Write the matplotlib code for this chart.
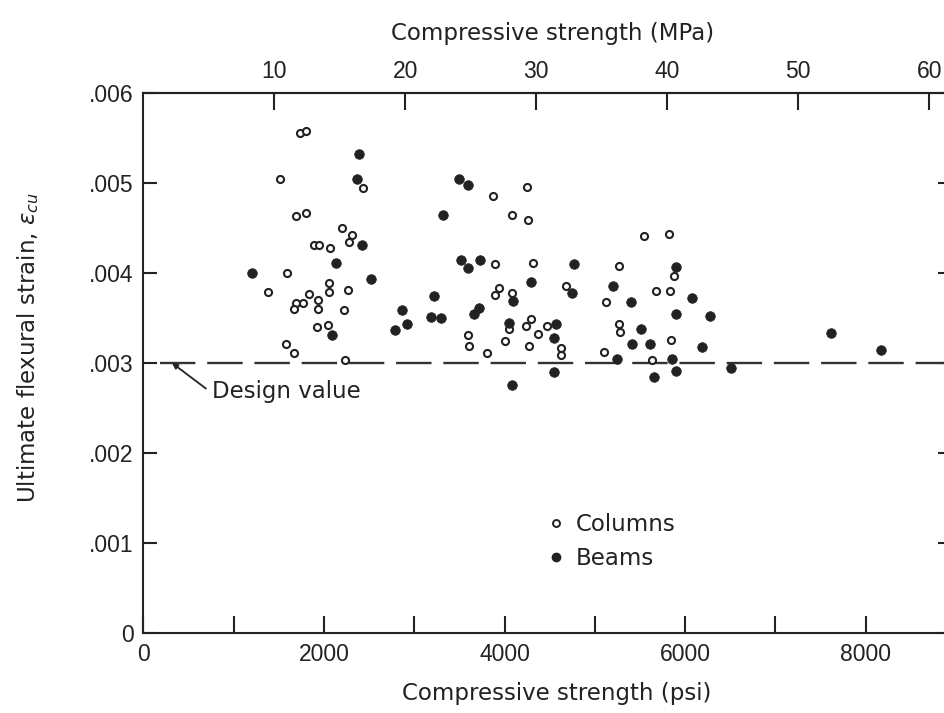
import matplotlib
matplotlib.use("Agg")
import matplotlib.pyplot as plt
from matplotlib.lines import Line2D
import numpy as np

# ---------------- data ----------------
columns_psi = [1730, 1800, 1510, 2436, 1694, 1798, 2197, 2314, 2281, 1890,
               1949, 2071, 1591, 1381, 1838, 2060, 2060, 2270, 1688, 1765,
               1669, 1938, 1938, 2226, 1924, 2045, 1577, 1672, 2237,
               3876, 4252, 4080, 4263, 3891, 4316, 3942, 3895, 4083, 4046,
               3599, 3607, 3806, 4009, 4238, 4293, 4368, 4467, 4268, 4681,
               4622, 4622, 5265, 5121, 5265, 5279, 5098, 5545, 5825, 5877,
               5674, 5833, 5840, 5637]
columns_strain = [.00556, .00558, .00504, .00495, .00463, .00467, .00450, .00442, .00435, .00431,
                  .00431, .00428, .00400, .00379, .00377, .00389, .00379, .00381, .00367, .00367,
                  .00360, .00370, .00360, .00359, .00340, .00342, .00321, .00311, .00303,
                  .00486, .00496, .00465, .00459, .00410, .00411, .00383, .00376, .00378, .00338,
                  .00331, .00319, .00311, .00325, .00341, .00349, .00332, .00341, .00319, .00386,
                  .00317, .00309, .00408, .00368, .00343, .00335, .00312, .00441, .00443, .00397,
                  .00380, .00380, .00326, .00303]

beams_psi = [2389, 2363, 2422, 2134, 1200, 2525, 2086, 2862, 2791, 2924,
             3499, 3592, 3316, 3522, 3592, 3729, 3219, 3186, 3297, 3662,
             3714, 4297, 4097, 4053, 4570, 4545, 4744, 4770, 4551, 4083,
             5198, 5404, 5512, 5415, 5608, 5242, 5855, 5655, 5896, 5899,
             5899, 6076, 6279, 6187, 6505, 7619, 8173]
beams_strain = [.00532, .00504, .00431, .00411, .00400, .00393, .00331, .00359, .00337, .00343,
                .00505, .00498, .00465, .00414, .00406, .00415, .00374, .00351, .00350, .00355,
                .00361, .00390, .00369, .00344, .00343, .00328, .00378, .00410, .00290, .00276,
                .00386, .00368, .00338, .00321, .00321, .00304, .00305, .00285, .00291, .00354,
                .00407, .00372, .00352, .00318, .00295, .00333, .00314]

design_strain = 0.003

psi_ticks = [0, 1000, 2000, 3000, 4000, 5000, 6000, 7000, 8000]
psi_labels = ["0", "", "2000", "", "4000", "", "6000", "", "8000"]
strain_ticks = [0, 0.001, 0.002, 0.003, 0.004, 0.005, 0.006]
strain_labels = ["0", ".001", ".002", ".003", ".004", ".005", ".006"]
mpa_ticks = [10, 20, 30, 40, 50, 60]
PSI_PER_MPA = 145.04

INK = "#222222"
LABEL_FONT = "DejaVu Sans"
TICK_FONT = "Liberation Sans"

# ---------------- figure ----------------
fig = plt.figure(figsize=(9.45, 7.13), dpi=100)
ax = fig.add_axes([0.15164, 0.11220, 0.85524, 0.75736])
ax.set_xlim(0, 8950)
ax.set_ylim(0, 0.006)

ax.scatter(columns_psi, columns_strain, s=26, facecolors="white",
           edgecolors=INK, linewidths=1.5, zorder=3)
ax.scatter(beams_psi, beams_strain, s=48, facecolors=INK,
           edgecolors=INK, linewidths=0.5, zorder=3)

ax.hlines(design_strain, 180, 8950, colors="#333333", linewidth=1.7,
          linestyles=(0, (15, 5)), zorder=2)

ax.annotate("Design value", xy=(318, design_strain), xytext=(761, 0.002678),
            fontsize=16.5, family=LABEL_FONT, color=INK, ha="left", va="center",
            arrowprops=dict(arrowstyle="-|>", color=INK, lw=1.3, shrinkA=3,
                            shrinkB=0, mutation_scale=8, relpos=(0, 0.45)))

# axes styling
for side in ["left", "bottom", "top", "right"]:
    ax.spines[side].set_linewidth(1.5)
    ax.spines[side].set_color(INK)

ax.set_xticks(psi_ticks)
ax.set_xticklabels(psi_labels)
ax.set_yticks(strain_ticks)
ax.set_yticklabels(strain_labels)
ax.tick_params(axis="both", direction="in", width=1.5, color=INK,
               labelcolor=INK, labelsize=16.5, pad=7)
ax.tick_params(axis="x", length=12)
ax.tick_params(axis="y", length=10, right=True)
for lbl in ax.get_xticklabels() + ax.get_yticklabels():
    lbl.set_fontfamily(TICK_FONT)

sec = ax.secondary_xaxis("top", functions=(lambda p: np.asarray(p) / PSI_PER_MPA,
                                           lambda m: np.asarray(m) * PSI_PER_MPA))
sec.set_xticks(mpa_ticks)
sec.tick_params(direction="in", length=12, width=1.5, color=INK,
                labelcolor=INK, labelsize=16.5, pad=7)
for lbl in sec.get_xticklabels():
    lbl.set_fontfamily(TICK_FONT)
sec.spines["top"].set_linewidth(1.5)
sec.spines["top"].set_color(INK)
sec.set_xlabel("Compressive strength (MPa)", fontsize=16.5, family=LABEL_FONT, color=INK)
sec.xaxis.set_label_coords(0.507, 1.098, transform=ax.transAxes)

ax.set_xlabel("Compressive strength (psi)", fontsize=16.5, family=LABEL_FONT, color=INK)
ax.xaxis.set_label_coords(0.511, -0.090)
ax.set_ylabel(r"Ultimate flexural strain, $\epsilon_{cu}$", fontsize=16.5,
              family=LABEL_FONT, color=INK)
ax.yaxis.set_label_coords(-0.1266, 0.528)

handles = [
    Line2D([], [], marker="o", ls="none", mfc="white", mec=INK, ms=5, mew=1.4,
           label="Columns"),
    Line2D([], [], marker="o", ls="none", mfc=INK, mec=INK, ms=6, label="Beams"),
]
ax.legend(handles=handles, loc="upper left", bbox_to_anchor=(0.4987, 0.2222),
          frameon=False, borderpad=0, borderaxespad=0, handlelength=0.8,
          handletextpad=0.5, labelspacing=0.5, labelcolor=INK,
          prop={"family": LABEL_FONT, "size": 16.5})

fig.savefig("out.png", dpi=100)
